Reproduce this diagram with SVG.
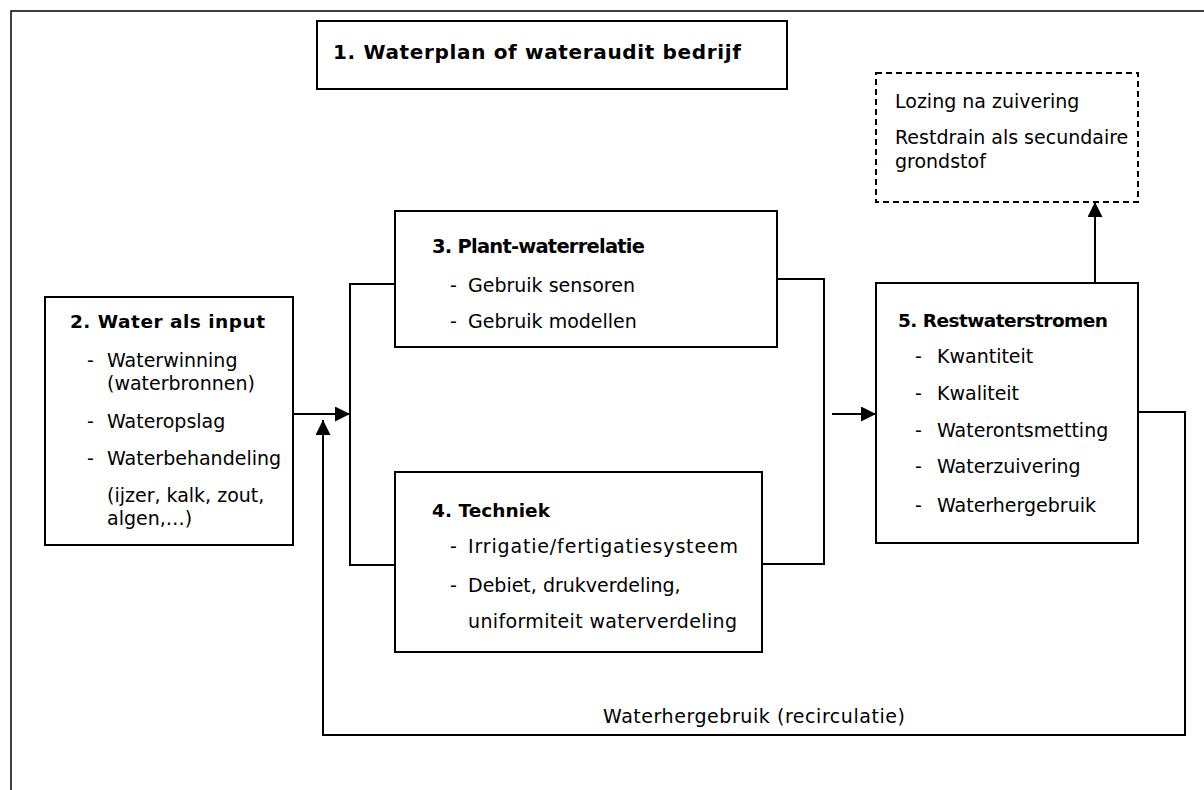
<svg xmlns="http://www.w3.org/2000/svg" width="1204" height="790" viewBox="0 0 1204 790">
<style>
.box{fill:#fff;stroke:#000;stroke-width:2}
.dash{fill:#fff;stroke:#000;stroke-width:2;stroke-dasharray:6 4}
.t{font-family:"DejaVu Sans",sans-serif;font-size:19px;fill:#000}
.b{font-family:"DejaVu Sans",sans-serif;font-size:18.5px;font-weight:bold;fill:#000}
.c{fill:none;stroke:#000;stroke-width:2}
.frame{fill:none;stroke:#000;stroke-width:1.5}
</style>
<defs>
<marker id="ah" viewBox="0 0 15 15" refX="15" refY="7.5" markerWidth="15" markerHeight="15" markerUnits="userSpaceOnUse" orient="auto">
<path d="M0,0 L15,7.5 L0,15 Z" fill="#000"/>
</marker>
</defs>
<polyline class="frame" points="11,790 11,11 1204,11"/>
<g id="connectors">
<line class="c" x1="293" y1="414" x2="350" y2="414" marker-end="url(#ah)"/>
<polyline class="c" points="395,284 350,284 350,565 395,565"/>
<polyline class="c" points="777,279 824,279 824,564 762,564"/>
<line class="c" x1="832" y1="414" x2="876" y2="414" marker-end="url(#ah)"/>
<line class="c" x1="1095" y1="283" x2="1095" y2="202" marker-end="url(#ah)"/>
<polyline class="c" points="1138,412 1185,412 1185,735 323,735 323,420" marker-end="url(#ah)"/>
<text class="t" x="603" y="723" textLength="302">Waterhergebruik (recirculatie)</text>
</g>
<g id="node1">
<rect class="box" x="317" y="21" width="470" height="68"/>
<text class="b" x="333" y="59" style="font-size:20px" textLength="408">1. Waterplan of wateraudit bedrijf</text>
</g>
<g id="node2">
<rect class="box" x="45" y="297" width="248" height="248"/>
<text class="b" x="70" y="328" textLength="195">2. Water als input</text>
<text class="t" x="87" y="367">-</text><text class="t" x="107" y="367">Waterwinning</text>
<text class="t" x="107" y="390">(waterbronnen)</text>
<text class="t" x="87" y="428">-</text><text class="t" x="107" y="428">Wateropslag</text>
<text class="t" x="87" y="465">-</text><text class="t" x="107" y="465">Waterbehandeling</text>
<text class="t" x="107" y="502">(ijzer, kalk, zout,</text>
<text class="t" x="107" y="525">algen,…)</text>
</g>
<g id="node3">
<rect class="box" x="395" y="211" width="382" height="136"/>
<text class="b" x="432" y="253" style="font-size:19.5px" textLength="213">3. Plant-waterrelatie</text>
<text class="t" x="450" y="292">-</text><text class="t" x="468" y="292">Gebruik sensoren</text>
<text class="t" x="450" y="328">-</text><text class="t" x="468" y="328">Gebruik modellen</text>
</g>
<g id="node4">
<rect class="box" x="395" y="472" width="367" height="180"/>
<text class="b" x="432" y="517" textLength="118">4. Techniek</text>
<text class="t" x="450" y="553">-</text><text class="t" x="468" y="553" textLength="270">Irrigatie/fertigatiesysteem</text>
<text class="t" x="450" y="592">-</text><text class="t" x="468" y="592">Debiet, drukverdeling,</text>
<text class="t" x="468" y="628" textLength="269">uniformiteit waterverdeling</text>
</g>
<g id="node5">
<rect class="box" x="876" y="283" width="262" height="260"/>
<text class="b" x="898" y="327" textLength="210">5. Restwaterstromen</text>
<text class="t" x="915" y="363">-</text><text class="t" x="937" y="363">Kwantiteit</text>
<text class="t" x="915" y="400">-</text><text class="t" x="937" y="400">Kwaliteit</text>
<text class="t" x="915" y="437">-</text><text class="t" x="937" y="437">Waterontsmetting</text>
<text class="t" x="915" y="473">-</text><text class="t" x="937" y="473">Waterzuivering</text>
<text class="t" x="915" y="512">-</text><text class="t" x="937" y="512">Waterhergebruik</text>
</g>
<g id="node6">
<rect class="dash" x="876" y="73" width="262" height="129"/>
<text class="t" x="895" y="108">Lozing na zuivering</text>
<text class="t" x="895" y="144">Restdrain als secundaire</text>
<text class="t" x="895" y="168">grondstof</text>
</g>
</svg>
